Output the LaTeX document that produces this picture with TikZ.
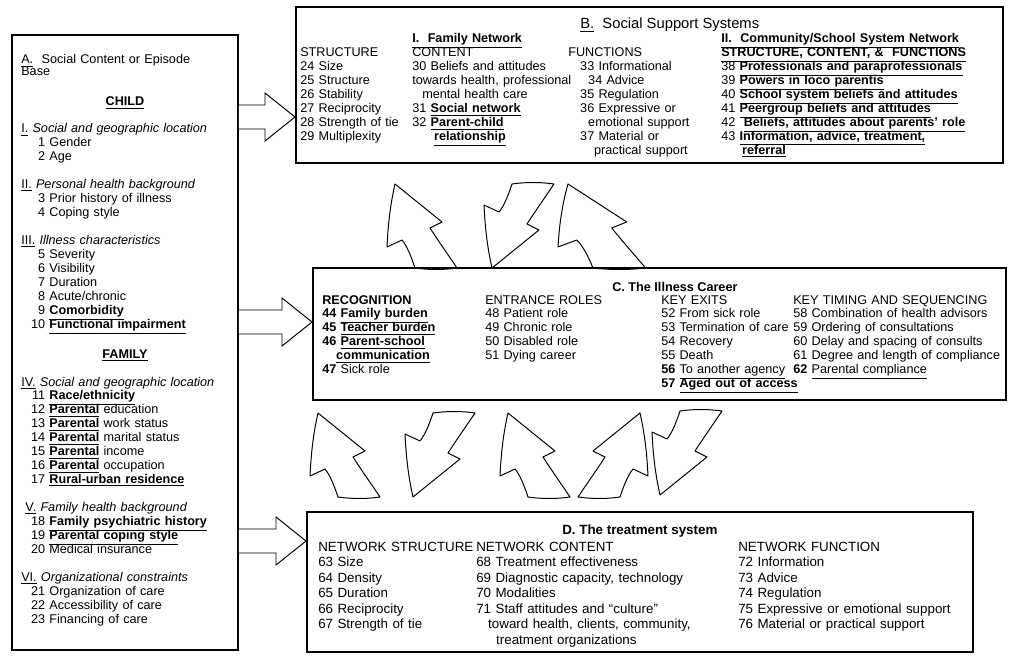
\documentclass[tikz,border=0pt]{standalone}
\usepackage{fontspec}
\setmainfont{Liberation Sans}
\usetikzlibrary{calc}
\newlength\pxu
\setlength\pxu{0.70866pt}
\newcommand\undl[1]{\smash{\underline{#1}}}
\newcommand\itemno[1]{\makebox[24\pxu][r]{#1}\ }
\tikzset{
    panel/.style = {
        draw,
        shape=rectangle,
        line width=1.3pt,
        inner sep=0pt
    },
    txt/.style = {
        inner sep=0pt,
        font=\fontsize{9pt}{9.92pt}\selectfont
    },
    column/.style = {
        txt,
        anchor=base west,
        align=left,
        text width=#1
    },
    column/.default = 8cm,
    dcolumn/.style = {
        column=#1,
        font=\fontsize{9.5pt}{11.06pt}\selectfont
    },
    dcolumn/.default = 8cm,
    openarrow/.style = {
        draw,
        fill=white,
        line width=0.7pt,
        line join=miter
    },
    curlarrow/.style = {
        draw,
        fill=white,
        line width=0.7pt,
        line join=round
    },
    keep/.style = {},
    flipdown/.style = {yscale=-1},
    mirror/.style = {xscale=-1},
    wide/.style = {xscale=1.25},
    bentarrow/.pic = {
        \draw[curlarrow] (0,0) .. controls (-4,-12) and (-8,-22) .. (-13,-28)
            -- (-28,-21) .. controls (-27,-42) and (-25,-62) .. (-20,-84)
            -- (27,-46) -- (15,-40) .. controls (24,-26) and (34,-12) .. (42,0)
            .. controls (28,2) and (14,2) .. cycle;
    },
}

\begin{document}
\begin{tikzpicture}[x=0.025cm, y=-0.025cm]
    \useasboundingbox (0,0) rectangle (1011,656);

    % curved arrows between the systems
    \foreach \xx/\yy/\how in {415/268/keep, 512/184/flipdown, 593/268/wide,
                              338/497/keep, 433/413/flipdown, 528/497/keep,
                              620/497/mirror, 680/411/flipdown}
        \pic[\how] at (\xx,\yy) {bentarrow};

    % boxes
    \node[panel, minimum width=5.65cm, minimum height=15.375cm] (boxA) at (125,342.5) {};
    \node[panel, minimum width=17.675cm, minimum height=3.9cm] (boxB) at (649.5,85) {};
    \node[panel, minimum width=17.325cm, minimum height=3.3cm] (boxC) at (659.5,334) {};
    \node[panel, minimum width=16.65cm, minimum height=3.5cm] (boxD) at (640,582) {};

    % A
    \node[column] (headA) at (21,64) {\undl{A.}\ \ Social Content or Episode\\[-2pt]Base};
    \node[txt, anchor=base] (child) at (125,106) {\undl{\textbf{CHILD}}};
    \node[column] (secChild) at (21,133) {%
        \undl{I.}\ \textit{Social and geographic location}\\
        \itemno{1}Gender\\
        \itemno{2}Age\\[9.92pt]
        \undl{II.}\ \textit{Personal health background}\\
        \itemno{3}Prior history of illness\\
        \itemno{4}Coping style\\[9.92pt]
        \undl{III.}\ \textit{Illness characteristics}\\
        \itemno{5}Severity\\
        \itemno{6}Visibility\\
        \itemno{7}Duration\\
        \itemno{8}Acute/chronic\\
        \itemno{9}\undl{\textbf{Comorbidity}}\\
        \itemno{10}\undl{\textbf{Functional impairment}}};
    \node[txt, anchor=base] (family) at (125,358) {\undl{\textbf{FAMILY}}};
    \node[column] (secFamily) at (21,386) {%
        \undl{IV.}\ \textit{Social and geographic location}\\
        \itemno{11}\undl{\textbf{Race/ethnicity}}\\
        \itemno{12}\undl{\textbf{Parental}} education\\
        \itemno{13}\undl{\textbf{Parental}} work status\\
        \itemno{14}\undl{\textbf{Parental}} marital status\\
        \itemno{15}\undl{\textbf{Parental}} income\\
        \itemno{16}\undl{\textbf{Parental}} occupation\\
        \itemno{17}\undl{\textbf{Rural-urban residence}}\\[9.92pt]
        \ \undl{V.}\ \textit{Family health background}\\
        \itemno{18}\undl{\textbf{Family psychiatric history}}\\
        \itemno{19}\undl{\textbf{Parental coping style}}\\
        \itemno{20}Medical insurance\\[9.92pt]
        \undl{VI.}\ \textit{Organizational constraints}\\
        \itemno{21}Organization of care\\
        \itemno{22}Accessibility of care\\
        \itemno{23}Financing of care};

    % B
    \node[txt, anchor=base west, font=\fontsize{10.5pt}{10.5pt}\selectfont] (titleB) at (580,29) {\undl{B.}\ \ Social Support Systems};
    \node[column] (structB) at (300,57) {%
        STRUCTURE\\
        24 Size\\
        25 Structure\\
        26 Stability\\
        27 Reciprocity\\
        28 Strength of tie\\
        29 Multiplexity};
    \node[column] (familyB) at (412,43) {%
        \undl{\textbf{I.\ \ Family Network}}\\
        CONTENT\\
        30 Beliefs and attitudes\\
        towards health, professional\\
        \hspace*{10\pxu}mental health care\\
        31 \undl{\textbf{Social network}}\\
        32 \undl{\textbf{Parent-child}}\\
        \hspace*{22\pxu}\undl{\textbf{relationship}}};
    \node[column] (functB) at (568,57) {%
        FUNCTIONS\\
        \hspace*{12\pxu}33 Informational\\
        \hspace*{20\pxu}34 Advice\\
        \hspace*{12\pxu}35 Regulation\\
        \hspace*{12\pxu}36 Expressive or\\
        \hspace*{20\pxu}emotional support\\
        \hspace*{12\pxu}37 Material or\\
        \hspace*{26\pxu}practical support};
    \node[column] (communityB) at (721,43) {%
        \undl{\textbf{II.\ \ Community/School System Network}}\\
        \undl{\textbf{STRUCTURE, CONTENT, \&\ \ FUNCTIONS}}\\
        38 \undl{\textbf{Professionals and paraprofessionals}}\\
        39 \undl{\textbf{Powers in loco parentis}}\\
        40 \undl{\textbf{School system beliefs and attitudes}}\\
        41 \undl{\textbf{Peergroup beliefs and attitudes}}\\
        42 \ \undl{\textbf{Beliefs, attitudes about parents' role}}\\
        43 \undl{\textbf{Information, advice, treatment,}}\\
        \hspace*{21\pxu}\undl{\textbf{referral}}};

    % C
    \node[txt, anchor=base west] (titleC) at (612,291) {\textbf{C. The Illness Career}};
    \node[column] (recogC) at (322,304) {%
        \textbf{RECOGNITION}\\
        \textbf{44} \undl{\textbf{Family burden}}\\
        \textbf{45} \undl{\textbf{Teacher burden}}\\
        \textbf{46} \undl{\textbf{Parent-school}}\\
        \hspace*{14\pxu}\undl{\textbf{communication}}\\
        \textbf{47} Sick role};
    \node[column] (entryC) at (485,304) {%
        ENTRANCE ROLES\\
        48 Patient role\\
        49 Chronic role\\
        50 Disabled role\\
        51 Dying career};
    \node[column] (exitC) at (661,304) {%
        KEY EXITS\\
        52 From sick role\\
        53 Termination of care\\
        54 Recovery\\
        55 Death\\
        \textbf{56} \undl{To another agency}\\
        \textbf{57} \undl{\textbf{Aged out of access}}};
    \node[column] (timingC) at (793,304) {%
        KEY TIMING AND SEQUENCING\\
        58 Combination of health advisors\\
        59 Ordering of consultations\\
        60 Delay and spacing of consults\\
        61 Degree and length of compliance\\
        \textbf{62} \undl{Parental compliance}};

    % D
    \node[txt, anchor=base west, font=\fontsize{9.5pt}{11pt}\selectfont] (titleD) at (562,534) {\textbf{D. The treatment system}};
    \node[dcolumn] (structD) at (318,551) {%
        NETWORK STRUCTURE\\
        63 Size\\
        64 Density\\
        65 Duration\\
        66 Reciprocity\\
        67 Strength of tie};
    \node[dcolumn] (contentD) at (476,551) {%
        NETWORK CONTENT\\
        68 Treatment effectiveness\\
        69 Diagnostic capacity, technology\\
        70 Modalities\\
        71 Staff attitudes and \textquotedblleft culture\textquotedblright\\
        \hspace*{12\pxu}toward health, clients, community,\\
        \hspace*{20\pxu}treatment organizations};
    \node[dcolumn] (functD) at (738,551) {%
        NETWORK FUNCTION\\
        72 Information\\
        73 Advice\\
        74 Regulation\\
        75 Expressive or emotional support\\
        76 Material or practical support};

    %connect
    \foreach \yy/\tgt in {117/boxB, 322/boxC, 541/boxD}
        \draw[openarrow] ($(boxA.east|-0,\yy)+(0,-12)$) -- ($(\tgt.west|-0,\yy)+(-30,-12)$)
            -- ++(0,-12) -- (\tgt.west|-0,\yy) -- ($(\tgt.west|-0,\yy)+(-30,24)$)
            -- ++(0,-12) -- ($(boxA.east|-0,\yy)+(0,12)$);

\end{tikzpicture}
\end{document}
